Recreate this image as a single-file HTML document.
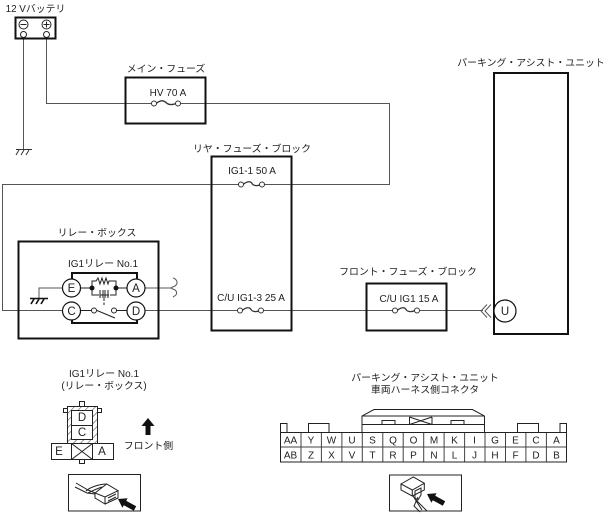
<!DOCTYPE html>
<html><head><meta charset="utf-8"><style>
html,body{margin:0;padding:0;background:#fff}
svg{display:block}
text{font-family:"Liberation Sans","Noto Sans CJK JP",sans-serif;font-size:10px;fill:#222;text-anchor:middle}
.j{font-size:9.9px}
.c{font-size:11.5px}
</style></head><body>
<svg width="608" height="514" viewBox="0 0 608 514" xmlns="http://www.w3.org/2000/svg">
<defs>
<pattern id="h" width="5" height="5" patternUnits="userSpaceOnUse" patternTransform="rotate(-45)"><rect width="5" height="5" fill="#fff"/><line x1="0" y1="0" x2="5" y2="0" stroke="#333" stroke-width="1"/></pattern>
</defs>
<g fill="none" stroke="#555" stroke-width="1">
<path d="M23.5 38V149"/>
<path d="M46.5 38V103.5H152"/>
<path d="M180 103.5H389.5V184.5H263"/>
<path d="M240 184.5H2.5V310.5H63"/>
<path d="M144 310.5H240"/>
<path d="M263 310.5H393"/>
<path d="M419 310.5H483"/>
<path d="M63 288H39V298"/>
<path d="M144 288H171"/>
<path d="M173 278c4 1 5 5 3 7c-1 2-5 2-5 3c0 1 4 1 5 3c2 3-1 5-3 6"/>
<path d="M491 304.5l-6 6.500l6 6.500M487 304.5l-6 6.500l6 6.500"/>
</g>
<!-- boxes -->
<g fill="none" stroke="#111" stroke-width="2">
<rect x="15.5" y="17.500" width="40" height="21"/>
<rect x="125.500" y="77.500" width="80" height="46"/>
<rect x="211.500" y="156.500" width="80" height="174"/>
<rect x="18.500" y="241.500" width="140" height="97"/>
<rect x="366.500" y="283.500" width="80" height="47"/>
<rect x="494" y="73" width="74" height="261"/>
</g>
<!-- battery -->
<g fill="#fff" stroke="#222" stroke-width="1">
<circle cx="23.500" cy="24.500" r="4.500"/><circle cx="46.500" cy="24.500" r="4.500"/>
<circle cx="23.500" cy="34.500" r="3"/><circle cx="46.500" cy="34.500" r="3"/>
<path d="M20.500 24.500h6M43.500 24.500h6M46.500 21.500v6"/>
</g>
<!-- grounds -->
<g fill="none" stroke="#333" stroke-width="1">
<path d="M16 149.500H32M19 150l-3 5M24 150l-3 5M29 150l-3 5"/>
</g>
<g fill="none" stroke="#111" stroke-width="1.600">
<path d="M30 298.500H48M34 299l-3 5M39 299l-3 5M44 299l-3 5"/>
</g>
<!-- fuses -->
<g fill="#fff" stroke="#333" stroke-width="1">
<path d="M156 103.500c5 -4 8 -3 10 -1s5 3 10 1" fill="none" stroke-width="1.300"/><circle cx="154" cy="103.500" r="2.500"/><circle cx="178" cy="103.500" r="2.500"/>
<path d="M243 184.500c5 -4 8 -3 9 -1s5 3 9 1" fill="none" stroke-width="1.300"/><circle cx="241" cy="184.500" r="2.500"/><circle cx="262" cy="184.500" r="2.500"/>
<path d="M242 310.500c5 -4 8 -3 9 -1s5 3 9 1" fill="none" stroke-width="1.300"/><circle cx="240" cy="310.500" r="2.500"/><circle cx="261" cy="310.500" r="2.500"/>
<path d="M397 310.500c5 -4 8 -3 9 -1s5 3 9 1" fill="none" stroke-width="1.300"/><circle cx="395" cy="310.500" r="2.500"/><circle cx="417" cy="310.500" r="2.500"/>
</g>
<!-- relay -->
<path d="M72 280V273H137V280M72 319V323H137V319" fill="none" stroke="#111" stroke-width="2"/>
<g fill="none" stroke="#222" stroke-width="1">
<path d="M79 288H92M128 288H116"/>
<path d="M92 288V281H96l2 -3 2 6 2 -6 2 6 2 -6 2 6 1 -3H116V288"/>
<path d="M92 288V295H99M116 288V295H110"/>
<path d="M100 290v8M103 290v8M105 290v8M108 290v8M100 295h9"/>
<path d="M104 298v7" stroke-dasharray="3 1.500"/>
<path d="M79 310.500H91M128 310.500H116M97 310.500L115 318"/>
</g>
<circle cx="92" cy="288" r="2.500" fill="#111"/><circle cx="116" cy="288" r="2.500" fill="#111"/>
<circle cx="94" cy="310.500" r="2.500" fill="#fff" stroke="#222"/><circle cx="114" cy="310.500" r="2.500" fill="#fff" stroke="#222"/>
<g fill="#fff" stroke="#111" stroke-width="1.200">
<circle cx="71.500" cy="288" r="9"/><circle cx="136" cy="288" r="9"/>
<circle cx="71.500" cy="311" r="9"/><circle cx="136" cy="311" r="9"/>
<circle cx="505" cy="311" r="11"/>
</g>
<!-- relay connector -->
<g stroke="#222" stroke-width="1">
<rect x="79.500" y="401.500" width="5" height="5" fill="#fff"/>
<rect x="63.500" y="408.500" width="4" height="4" fill="#fff"/>
<rect x="97.500" y="408.500" width="4" height="4" fill="#fff"/>
<rect x="79.500" y="459.500" width="5" height="4" fill="#fff"/>
<rect x="67.500" y="406.500" width="30" height="37" fill="url(#h)"/>
<rect x="71.500" y="410.500" width="21" height="29" fill="#fff"/>
<path d="M71.500 425.500H92.500" fill="none"/>
<rect x="51.500" y="443.500" width="62" height="16" fill="#fff"/>
<path d="M71.500 443.500V459.500M92.500 443.500V459.500M71.500 443.500L92.500 459.500M92.500 443.500L71.500 459.500" fill="none"/>
</g>
<path d="M148 418l-6.500 8h4v9h5v-9h4z" fill="#111"/>
<!-- connector -->
<g fill="none" stroke="#222" stroke-width="1">
<path d="M362 432V416L374 409.500H472.500L484.500 416V432M362 416H484.500M362 424.500H484.500"/>
<path d="M382 424.500V420.500H395V424.500M451 424.500V420.500H464V424.500M409.500 417V424.500M432 417V424.500M409.500 417L432 424.500M432 417L409.500 424.500"/>
<path d="M280.500 432V423.500H287V432M308.500 432V423.500H329V432M517.500 432V423.500H538.500V432M560 432V423.500H566.500V432"/>
<rect x="280.500" y="432.500" width="286" height="29.500"/>
<path d="M280.500 447H566.500M301 432.500V462M321.400 432.500V462M341.900 432.500V462M362.300 432.500V462M382.800 432.500V462M403.200 432.500V462M423.700 432.500V462M444.100 432.500V462M464.600 432.500V462M485 432.500V462M505.500 432.500V462M525.900 432.500V462M546.400 432.500V462" stroke-opacity=".85"/>
</g>
<!-- view boxes -->
<rect x="68.500" y="474.500" width="72" height="36.500" fill="none" stroke="#222"/>
<rect x="389.500" y="475" width="72" height="36" fill="none" stroke="#222"/>
<g fill="none" stroke="#222" stroke-width="1">
<path d="M76 483l12 7 7 3M75 487l12 6 8 1M86 491c3-3 12-7 21-7M88 493c4-2 8-4 14-6"/>
<path d="M95 493l11.700-9 11.300 6.700-13 6.300zM95 493v5l10 6v-7M105 504l13-6v-7.300M108 498l8-4M108 501l8-4"/>
<path d="M401 484l12.300-7 11 6.300-12 6.700zM401 484v6l11.300 6v-6.500"/>
<path d="M412.300 496l12-6v-6.700M415 491l6-3v7l-3 5-3-2zM413 496l9 14M418 497l-4 9 6 6M416 500l11 11"/>
</g>
<polygon points="118,499 127.600,498.200 126.200,500.800 136.200,506.300 133.800,510.700 123.800,505.200 122.400,507.800" fill="#111"/>
<polygon points="427,494 436.600,493.200 435.200,495.800 445.200,501.300 442.800,505.700 432.800,500.200 431.400,502.800" fill="#111"/>
<!-- labels -->
<text class="j" x="35.500" y="12">12 Vバッテリ</text>
<text class="j" x="166" y="72">メイン・フューズ</text>
<text x="168" y="96">HV 70 A</text>
<text class="j" x="252" y="152">リヤ・フューズ・ブロック</text>
<text x="252" y="174">IG1-1 50 A</text>
<text x="251" y="301">C/U IG1-3 25 A</text>
<text class="j" x="97" y="236">リレー・ボックス</text>
<text x="103" y="267">IG1リレー No.1</text>
<text class="c" x="71.500" y="292">E</text><text class="c" x="136" y="292">A</text>
<text class="c" x="71.500" y="315">C</text><text class="c" x="136" y="315">D</text>
<text class="j" x="408" y="275">フロント・フューズ・ブロック</text>
<text x="409" y="302">C/U IG1 15 A</text>
<text class="j" x="531" y="66">パーキング・アシスト・ユニット</text>
<text class="c" x="505" y="315">U</text>
<text x="104" y="377">IG1リレー No.1</text>
<text class="j" x="104" y="389">(リレー・ボックス)</text>
<text class="c" x="82" y="421">D</text><text class="c" x="82" y="436">C</text>
<text class="c" x="59" y="455">E</text><text class="c" x="102" y="455">A</text>
<text class="j" x="148.500" y="449">フロント側</text>
<text class="j" x="425" y="381">パーキング・アシスト・ユニット</text>
<text class="j" x="425" y="393">車両ハーネス側コネクタ</text>
<g>
<text x="290.500" y="443.500">AA</text><text x="311" y="443.500">Y</text><text x="331.500" y="443.500">W</text><text x="352" y="443.500">U</text><text x="372.500" y="443.500">S</text><text x="393" y="443.500">Q</text><text x="413.500" y="443.500">O</text><text x="434" y="443.500">M</text><text x="454.500" y="443.500">K</text><text x="474.500" y="443.500">I</text><text x="495" y="443.500">G</text><text x="515.500" y="443.500">E</text><text x="536" y="443.500">C</text><text x="556.500" y="443.500">A</text>
<text x="290.500" y="458.500">AB</text><text x="311" y="458.500">Z</text><text x="331.500" y="458.500">X</text><text x="352" y="458.500">V</text><text x="372.500" y="458.500">T</text><text x="393" y="458.500">R</text><text x="413.500" y="458.500">P</text><text x="434" y="458.500">N</text><text x="454.500" y="458.500">L</text><text x="474.500" y="458.500">J</text><text x="495" y="458.500">H</text><text x="515.500" y="458.500">F</text><text x="536" y="458.500">D</text><text x="556.500" y="458.500">B</text>
</g>
</svg>
</body></html>
